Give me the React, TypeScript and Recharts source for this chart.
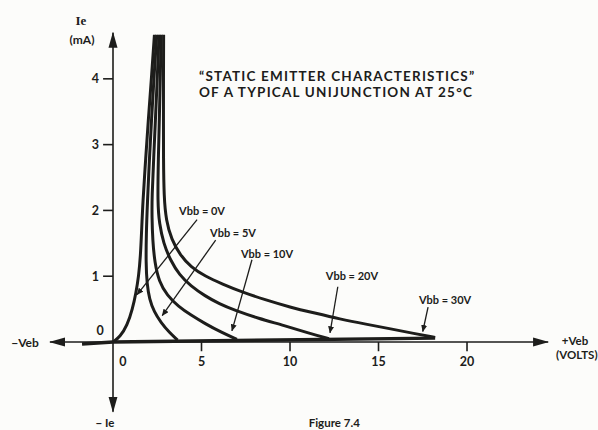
import { LineChart, Line, XAxis, YAxis, ReferenceLine, ReferenceDot } from "recharts";

// emitter curves, [Veb (V), Ie (mA)]
const vbb0 = [[0, 0], [0.4, 0.08], [0.8, 0.25], [1.1, 0.5], [1.3, 0.75], [1.45, 1.0], [1.55, 1.3], [1.62, 1.7], [1.68, 2.1], [1.85, 2.8], [2.0, 3.4], [2.17, 4.0], [2.34, 4.67]];
const vbb5 = [[3.65, 0.03], [3.2, 0.14], [2.7, 0.3], [2.32, 0.46], [2.06, 0.65], [1.92, 0.88], [1.86, 1.2], [1.88, 1.65], [1.94, 2.1], [2.06, 2.8], [2.18, 3.4], [2.31, 4.0], [2.47, 4.67]];
const vbb10 = [[7.0, 0.04], [6.1, 0.15], [5.2, 0.28], [4.4, 0.41], [3.7, 0.54], [3.05, 0.71], [2.6, 0.92], [2.36, 1.2], [2.24, 1.55], [2.2, 1.9], [2.2, 2.2], [2.3, 2.8], [2.4, 3.4], [2.5, 4.0], [2.6, 4.67]];
const vbb20 = [[12.2, 0.05], [11.0, 0.14], [9.7, 0.25], [8.2, 0.36], [6.9, 0.48], [6.0, 0.58], [5.2, 0.7], [4.4, 0.85], [3.75, 1.02], [3.25, 1.24], [2.85, 1.5], [2.62, 1.8], [2.52, 2.1], [2.56, 2.8], [2.62, 3.4], [2.67, 4.0], [2.72, 4.67]];
const vbb30 = [[18.2, 0.07], [17, 0.13], [15.7, 0.2], [14.3, 0.27], [12.8, 0.35], [11.4, 0.44], [10, 0.53], [8.6, 0.64], [7.2, 0.77], [6.2, 0.88], [5.2, 1.0], [4.4, 1.14], [3.8, 1.32], [3.3, 1.56], [3.0, 1.85], [2.88, 2.2], [2.85, 2.8], [2.85, 3.4], [2.85, 4.0], [2.86, 4.67]];
// the common cut-off line the curves fall onto
const baseline = [[-1.75, -0.03], [0, 0], [18.2, 0.06]];

const curves = [vbb0, vbb5, vbb10, vbb20, vbb30];
const curveNames = ["Vbb = 0V", "Vbb = 5V", "Vbb = 10V", "Vbb = 20V", "Vbb = 30V"];

const xTicks = [5, 10, 15, 20];
const yTicks = [1, 2, 3, 4];

// plot window (axes cross at the origin)
const X_DOMAIN = [-6.384, 27.4];
const Y_DOMAIN = [-1.337, 5.198];
const X_AXIS = [-3.56, 24.58];
const Y_AXIS = [-1.06, 4.7];

// annotation placement, plot units
const NAME_POS = [[5.03, 2.0], [6.78, 1.67], [8.7, 1.35], [13.5, 1.01], [18.76, 0.64]];
const LEADERS = [
  [[4.75, 1.86], [1.36, 0.72]],
  [[5.8, 1.55], [2.78, 0.4]],
  [[7.85, 1.25], [6.72, 0.17]],
  [[12.7, 0.84], [12.26, 0.14]],
  [[17.8, 0.53], [17.5, 0.16]],
];

const INK = "#1d1d1b";
const FONT = "Lato, 'Open Sans', sans-serif";

const pts = (arr: number[][]) => arr.map(([x, y]) => ({ x, y }));

const txt = (t: string, size = 12, anchor = "middle", family = FONT, spacing = 0) => (p: any) => (
  <text
    x={p.cx}
    y={p.cy}
    textAnchor={anchor}
    dominantBaseline="central"
    fontFamily={family}
    fontSize={size}
    fontWeight={700}
    letterSpacing={spacing}
    fill={INK}
  >
    {t}
  </text>
);

const label = (key: string, x: number, y: number, t: string, size = 12, anchor = "middle", family = FONT, spacing = 0) => (
  <ReferenceDot key={key} x={x} y={y} r={1} ifOverflow="visible" shape={txt(t, size, anchor, family, spacing)} />
);

export default function App() {
  return (
    <div style={{ position: "fixed", left: 0, top: 0, width: 598, height: 430, background: "#fcfcfa" }}>
      <svg width={0} height={0} style={{ position: "absolute" }}>
        <defs>
          <marker id="axisHead" viewBox="0 0 16 10" refX="15" refY="5" markerWidth="16" markerHeight="10" markerUnits="userSpaceOnUse" orient="auto-start-reverse">
            <path d="M0,0.5 L16,5 L0,9.5 Z" fill={INK} />
          </marker>
          <marker id="leadHead" viewBox="0 0 7 6" refX="6.5" refY="3" markerWidth="7" markerHeight="6" markerUnits="userSpaceOnUse" orient="auto">
            <path d="M0,0 L7,3 L0,6 Z" fill={INK} />
          </marker>
        </defs>
      </svg>
      <LineChart width={598} height={430} margin={{ top: 0, right: 0, bottom: 0, left: 0 }}>
        <XAxis type="number" dataKey="x" domain={X_DOMAIN} hide allowDataOverflow />
        <YAxis type="number" dataKey="y" domain={Y_DOMAIN} hide allowDataOverflow />

        {/* axes with arrowheads */}
        <ReferenceLine
          segment={[{ x: X_AXIS[0], y: 0 }, { x: X_AXIS[1], y: 0 }]}
          stroke={INK}
          strokeWidth={1.6}
          markerStart="url(#axisHead)"
          markerEnd="url(#axisHead)"
          ifOverflow="visible"
        />
        <ReferenceLine
          segment={[{ x: 0, y: Y_AXIS[0] }, { x: 0, y: Y_AXIS[1] }]}
          stroke={INK}
          strokeWidth={1.6}
          markerStart="url(#axisHead)"
          markerEnd="url(#axisHead)"
          ifOverflow="visible"
        />
        {xTicks.map((t) => (
          <ReferenceLine key={`xt${t}`} segment={[{ x: t, y: 0 }, { x: t, y: -0.14 }]} stroke={INK} strokeWidth={1.6} ifOverflow="visible" />
        ))}
        {yTicks.map((t) => (
          <ReferenceLine key={`yt${t}`} segment={[{ x: -0.56, y: t }, { x: 0, y: t }]} stroke={INK} strokeWidth={1.6} ifOverflow="visible" />
        ))}
        {xTicks.map((t) => label(`xl${t}`, t, -0.3, String(t), 12.5))}
        {yTicks.map((t) => label(`yl${t}`, -1.0, t, String(t), 12.5))}
        {label("x0", 0.56, -0.3, "0", 12.5)}
        {label("y0", -0.73, 0.17, "0", 12.5)}

        <Line data={pts(baseline)} dataKey="y" type="linear" stroke={INK} strokeWidth={3.4} dot={false} activeDot={false} isAnimationActive={false} />
        {curves.map((c, i) => (
          <Line key={curveNames[i]} data={pts(c)} dataKey="y" type="basis" stroke={INK} strokeWidth={3} dot={false} activeDot={false} isAnimationActive={false} />
        ))}

        {LEADERS.map(([a, b], i) => (
          <ReferenceLine
            key={`ld${i}`}
            segment={[{ x: a[0], y: a[1] }, { x: b[0], y: b[1] }]}
            stroke={INK}
            strokeWidth={1.3}
            markerEnd="url(#leadHead)"
            ifOverflow="visible"
          />
        ))}
        {curveNames.map((n, i) => label(`nm${i}`, NAME_POS[i][0], NAME_POS[i][1], n, 11))}

        {label("ie", -1.81, 4.89, "Ie", 13, "middle", "'Liberation Serif', serif")}
        {label("ma", -1.75, 4.6, "(mA)", 12)}
        {label("nie", -0.45, -1.23, "− Ie", 11.5)}
        {label("nveb", -4.97, 0.0, "−Veb", 12)}
        {label("pveb", 26.1, 0.03, "+Veb", 11.5)}
        {label("volts", 26.2, -0.19, "(VOLTS)", 11.5)}
        {label("t1", 4.86, 4.04, "\u201CSTATIC EMITTER CHARACTERISTICS\u201D", 13.5, "start", FONT, 1.2)}
        {label("t2", 4.86, 3.8, "OF A TYPICAL UNIJUNCTION AT 25\u00B0C", 13.5, "start", FONT, 1.2)}
        {label("fig", 12.5, -1.22, "Figure 7.4", 11.5)}
      </LineChart>
    </div>
  );
}
